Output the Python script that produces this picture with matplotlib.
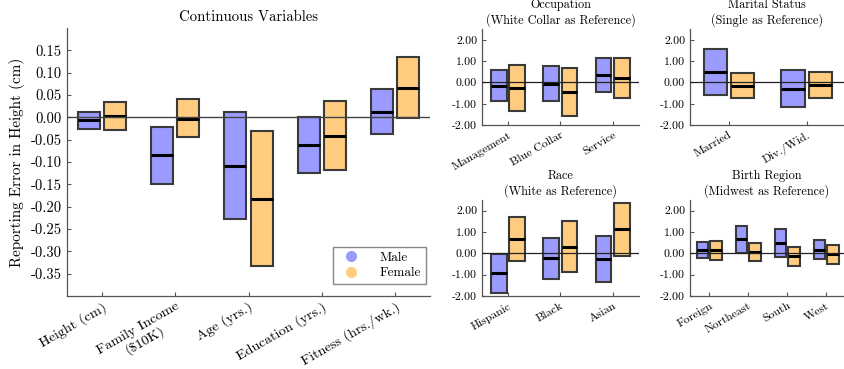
import matplotlib
matplotlib.use("Agg")
import matplotlib.pyplot as plt
import numpy as np
from matplotlib.ticker import FormatStrFormatter
from matplotlib.lines import Line2D

plt.rcParams['font.family'] = 'cmr10'
plt.rcParams['axes.formatter.use_mathtext'] = True
plt.rcParams['axes.unicode_minus'] = False

MALE_C = '#9b9bff'
FEMALE_C = '#ffcc80'

# continuous variables: (low, median, high) for male / female
cont_labels = ['Height (cm)', 'Family Income\n(\\$10K)', 'Age (yrs.)',
               'Education (yrs.)', 'Fitness (hrs./wk.)']
cont_male_lo = [-0.025, -0.149, -0.228, -0.125, -0.038]
cont_male_med = [-0.007, -0.085, -0.108, -0.063, 0.013]
cont_male_hi = [0.012, -0.021, 0.012, 0.0, 0.064]
cont_fem_lo = [-0.028, -0.045, -0.333, -0.118, -0.001]
cont_fem_med = [0.002, -0.003, -0.182, -0.041, 0.066]
cont_fem_hi = [0.034, 0.040, -0.031, 0.037, 0.136]

occ_labels = ['Management', 'Blue Collar', 'Service']
occ_male_lo = [-0.86, -0.86, -0.45]
occ_male_med = [-0.15, -0.06, 0.37]
occ_male_hi = [0.57, 0.75, 1.17]
occ_fem_lo = [-1.32, -1.58, -0.75]
occ_fem_med = [-0.25, -0.46, 0.22]
occ_fem_hi = [0.82, 0.68, 1.14]

mar_labels = ['Married', 'Div./Wid.']
mar_male_lo = [-0.57, -1.17]
mar_male_med = [0.51, -0.31]
mar_male_hi = [1.58, 0.57]
mar_fem_lo = [-0.72, -0.72]
mar_fem_med = [-0.15, -0.11]
mar_fem_hi = [0.42, 0.51]

race_labels = ['Hispanic', 'Black', 'Asian']
race_male_lo = [-1.85, -1.19, -1.34]
race_male_med = [-0.94, -0.23, -0.25]
race_male_hi = [-0.03, 0.71, 0.83]
race_fem_lo = [-0.34, -0.89, -0.12]
race_fem_med = [0.69, 0.31, 1.12]
race_fem_hi = [1.72, 1.51, 2.37]

reg_labels = ['Foreign', 'Northeast', 'South', 'West']
reg_male_lo = [-0.23, 0.03, -0.17, -0.29]
reg_male_med = [0.17, 0.68, 0.49, 0.17]
reg_male_hi = [0.55, 1.28, 1.15, 0.62]
reg_fem_lo = [-0.32, -0.38, -0.60, -0.51]
reg_fem_med = [0.14, 0.05, -0.12, -0.05]
reg_fem_hi = [0.58, 0.46, 0.31, 0.40]

main_yticks = [-0.35, -0.30, -0.25, -0.20, -0.15, -0.10, -0.05, 0.0, 0.05, 0.10, 0.15]


def draw_boxes(ax, lo, med, hi, offset, color, width=0.3):
    x = np.arange(len(lo)) + offset
    lo = np.array(lo)
    hi = np.array(hi)
    ax.bar(x, hi - lo, bottom=lo, width=width, color=color,
           edgecolor='#3a3a3a', linewidth=1.5, zorder=3)
    for xi, m in zip(x, med):
        ax.plot([xi - width / 2, xi + width / 2], [m, m], color='black',
                lw=2.2, zorder=4, solid_capstyle='butt')


def style_axes(ax):
    for s in ['top', 'right']:
        ax.spines[s].set_visible(False)
    for s in ['left', 'bottom']:
        ax.spines[s].set_color('#555555')
        ax.spines[s].set_linewidth(0.9)
    ax.tick_params(direction='in', color='#555555', length=3, width=0.8)


def small_panel(ax, title, labels, m_lo, m_med, m_hi, f_lo, f_med, f_hi,
                xmax, rot=30):
    draw_boxes(ax, m_lo, m_med, m_hi, -0.175, MALE_C)
    draw_boxes(ax, f_lo, f_med, f_hi, 0.175, FEMALE_C)
    ax.axhline(0, color='#222222', lw=0.9, zorder=5)
    ax.set_ylim(-2, 2.5)
    ax.set_xlim(-0.5, xmax)
    ax.set_yticks([-2, -1, 0, 1, 2])
    ax.yaxis.set_major_formatter(FormatStrFormatter('%.2f'))
    ax.set_xticks(np.arange(len(labels)))
    ax.set_xticklabels(labels, rotation=rot, ha='right', rotation_mode='anchor',
                       fontsize=8.5)
    ax.tick_params(axis='y', labelsize=8.5)
    ax.set_title(title, fontsize=8.8, linespacing=1.2, pad=4)
    style_axes(ax)


fig = plt.figure(figsize=(8.44, 3.69), dpi=100)

# main panel
ax = fig.add_axes([0.079, 0.198, 0.430, 0.726])
draw_boxes(ax, cont_male_lo, cont_male_med, cont_male_hi, -0.18, MALE_C)
draw_boxes(ax, cont_fem_lo, cont_fem_med, cont_fem_hi, 0.18, FEMALE_C)
ax.axhline(0, color='#444444', lw=1.0, zorder=5)
ax.set_ylim(-0.4, 0.2)
ax.set_xlim(-0.48, 4.47)
ax.set_yticks(main_yticks)
ax.yaxis.set_major_formatter(FormatStrFormatter('%.2f'))
ax.set_xticks(np.arange(len(cont_labels)))
ax.set_xticklabels(cont_labels, rotation=30, ha='right', rotation_mode='anchor',
                   fontsize=10.2, multialignment='center', linespacing=1.0)
ax.tick_params(axis='x', pad=3)
ax.tick_params(axis='y', labelsize=10.5)
ax.set_ylabel('Reporting Error in Height (cm)', fontsize=10.9)
ax.set_title('Continuous Variables', fontsize=10.6, pad=5)
style_axes(ax)
handles = [Line2D([], [], marker='o', ls='none', color=MALE_C, markersize=7),
           Line2D([], [], marker='o', ls='none', color=FEMALE_C, markersize=7)]
leg = ax.legend(handles, ['Male', 'Female'], loc='lower right', fontsize=9.5,
                fancybox=False, framealpha=1, edgecolor='#888888',
                bbox_to_anchor=(1.0, 0.03), handletextpad=1.2, borderpad=0.35,
                labelspacing=0.25, borderaxespad=0.3)

ax1 = fig.add_axes([0.571, 0.661, 0.186, 0.26])
small_panel(ax1, 'Occupation\n(White Collar as Reference)', occ_labels,
            occ_male_lo, occ_male_med, occ_male_hi,
            occ_fem_lo, occ_fem_med, occ_fem_hi, 2.5)

ax2 = fig.add_axes([0.8175, 0.661, 0.1825, 0.26])
small_panel(ax2, 'Marital Status\n(Single as Reference)', mar_labels,
            mar_male_lo, mar_male_med, mar_male_hi,
            mar_fem_lo, mar_fem_med, mar_fem_hi, 1.48)

ax3 = fig.add_axes([0.571, 0.198, 0.186, 0.26])
small_panel(ax3, 'Race\n(White as Reference)', race_labels,
            race_male_lo, race_male_med, race_male_hi,
            race_fem_lo, race_fem_med, race_fem_hi, 2.5)

ax4 = fig.add_axes([0.8175, 0.198, 0.1825, 0.26])
small_panel(ax4, 'Birth Region\n(Midwest as Reference)', reg_labels,
            reg_male_lo, reg_male_med, reg_male_hi,
            reg_fem_lo, reg_fem_med, reg_fem_hi, 3.45)

fig.savefig('out.png', dpi=100)
